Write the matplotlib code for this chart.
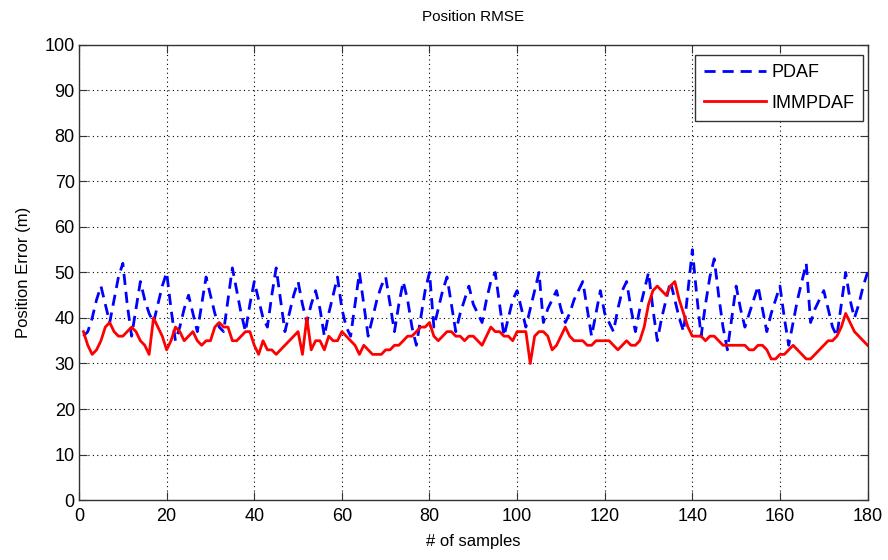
import numpy as np
import matplotlib
matplotlib.use('Agg')
import matplotlib.pyplot as plt

plt.rcParams['font.family'] = ['Liberation Sans', 'DejaVu Sans']

samples = np.arange(1, 181)

pdaf = [36, 37, 40, 44, 47, 43, 39, 44, 49, 52, 43, 36, 42, 48, 44, 41, 39, 43, 47, 50,
        42, 35, 38, 42, 45, 41, 37, 43, 49, 45, 41, 38, 37, 44, 51, 46, 41, 37, 43, 48,
        44, 40, 38, 45, 51, 44, 37, 41, 45, 48, 43, 39, 43, 46, 42, 36, 41, 45, 49, 42,
        38, 36, 43, 50, 43, 36, 40, 44, 47, 49, 43, 37, 43, 48, 44, 38, 34, 40, 46, 50,
        38, 42, 46, 49, 43, 37, 41, 44, 47, 43, 41, 39, 44, 48, 50, 43, 36, 40, 44, 46,
        42, 38, 42, 46, 50, 39, 42, 44, 46, 42, 39, 41, 44, 46, 48, 42, 36, 41, 46, 41,
        39, 37, 42, 46, 48, 42, 37, 42, 46, 50, 42, 35, 40, 44, 48, 44, 40, 37, 46, 55,
        45, 36, 43, 49, 53, 45, 38, 33, 40, 47, 42, 38, 41, 44, 47, 42, 37, 41, 44, 47,
        40, 34, 39, 44, 48, 52, 39, 42, 44, 46, 42, 38, 36, 43, 50, 44, 40, 43, 47, 50]

immpdaf = [37, 34, 32, 33, 35, 38, 39, 37, 36, 36, 37, 38, 37, 35, 34, 32, 40, 38, 36, 33,
           35, 38, 37, 35, 36, 37, 35, 34, 35, 35, 38, 39, 38, 38, 35, 35, 36, 37, 37, 34,
           32, 35, 33, 33, 32, 33, 34, 35, 36, 37, 32, 40, 33, 35, 35, 33, 36, 35, 35, 37,
           36, 35, 34, 32, 34, 33, 32, 32, 32, 33, 33, 34, 34, 35, 36, 36, 37, 38, 38, 39,
           36, 35, 36, 37, 37, 36, 36, 35, 36, 36, 35, 34, 36, 38, 37, 37, 36, 36, 35, 37,
           37, 37, 30, 36, 37, 37, 36, 33, 34, 36, 38, 36, 35, 35, 35, 34, 34, 35, 35, 35,
           35, 34, 33, 34, 35, 34, 34, 35, 38, 43, 46, 47, 46, 45, 47, 48, 44, 41, 38, 36,
           36, 36, 35, 36, 36, 35, 34, 34, 34, 34, 34, 34, 33, 33, 34, 34, 33, 31, 31, 32,
           32, 33, 34, 33, 32, 31, 31, 32, 33, 34, 35, 35, 36, 38, 41, 39, 37, 36, 35, 34]

fig = plt.figure(figsize=(8.88, 5.6), dpi=100)
ax = fig.add_axes([0.089, 0.107, 0.888, 0.813])

ax.plot(samples, pdaf, color='#0000ff', linestyle='--', linewidth=2, dashes=(4, 2.5), label='PDAF')
ax.plot(samples, immpdaf, color='#ff0000', linewidth=2, label='IMMPDAF')

ax.set_xlim(0, 180)
ax.set_ylim(0, 100)
ax.set_xticks(np.arange(0, 181, 20))
ax.set_yticks(np.arange(0, 101, 10))
ax.grid(True, color='black', linestyle=(0, (1, 3)), linewidth=0.8)
ax.tick_params(direction='in', top=True, right=True, labelsize=13, length=6,
               color='#333333', pad=3)
ax.tick_params(axis='x', pad=6)
for s in ax.spines.values():
    s.set_linewidth(1.0)
    s.set_color('#333333')

ax.set_title('Position RMSE', fontsize=11, pad=17)
ax.set_xlabel('# of samples', fontsize=12, labelpad=6)
ax.set_ylabel('Position Error (m)', fontsize=12, labelpad=10)

leg = ax.legend(loc='upper right', fontsize=13, fancybox=False, edgecolor='#333333',
                framealpha=1, handlelength=3.4, borderaxespad=0.2, labelspacing=0.75,
                handletextpad=0.3, borderpad=0.5, bbox_to_anchor=(0.999, 0.985))
leg.get_frame().set_linewidth(1.0)

fig.savefig('out.png', dpi=100)
